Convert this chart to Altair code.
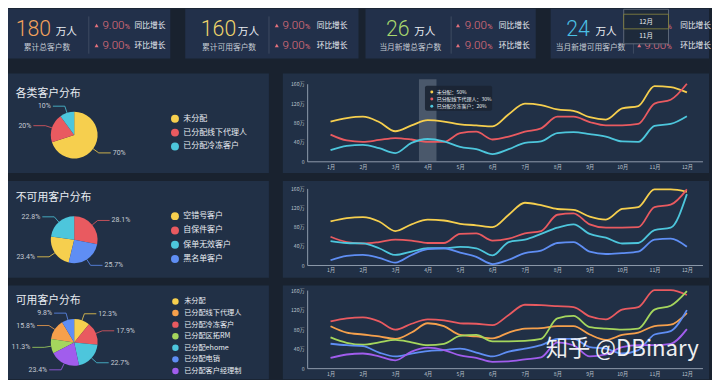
import altair as alt
import pandas as pd

# ------------------------------------------------------------------ data
card_values = ["180", "160", "26", "24"]
card_unit = "万人"
card_titles = ["累计总客户数", "累计可用客户数", "当月新增总客户数", "当月新增可用客户数"]
card_yoy = ["9.00", "9.00", "9.00", "9.00"]
card_mom = ["9.00", "9.00", "9.00", "9.00"]
yoy_text = "同比增长"
mom_text = "环比增长"
month_menu = ["12月", "11月"]

panel_titles = ["各类客户分布", "不可用客户分布", "可用客户分布"]

pie1_names = ["未分配", "已分配线下代理人", "已分配冷冻客户"]
pie1_values = [70, 20, 10]
pie1_order = [1, 2, 3]

pie2_names = ["空错号客户", "自保件客户", "保单无效客户", "黑名单客户"]
pie2_values = [23.4, 28.1, 22.8, 25.7]
pie2_order = [3, 1, 4, 2]

pie3_names = ["未分配", "已分配线下代理人", "已分配冷冻客户", "已分配区拓RM",
              "已分配ehome", "已分配电销", "已分配客户经理制"]
pie3_values = [12.3, 15.8, 17.9, 11.3, 22.7, 9.8, 23.4]
pie3_order = [1, 6, 2, 5, 3, 7, 4]

tip_month = 4
tip_values = [50, 30, 20]

months = [1, 1.5, 2, 2.5, 3, 3.5, 4, 4.5, 5, 5.5, 6, 6.5, 7, 7.5, 8, 8.5,
          9, 9.5, 10, 10.5, 11, 11.5, 12]

p1_yellow = [82, 89, 92, 81, 62, 74, 85, 82, 76, 74, 72, 97, 119, 116, 107, 104, 91, 86, 109, 114, 155, 153, 142]
p1_red = [55, 43, 40, 44, 48, 45, 40, 40, 58, 61, 45, 51, 61, 68, 92, 92, 81, 74, 74, 77, 119, 127, 160]
p1_cyan = [23, 32, 34, 27, 17, 38, 46, 41, 30, 25, 15, 25, 38, 41, 58, 60, 56, 51, 41, 40, 73, 77, 93]

p2_yellow = [91, 98, 100, 91, 71, 85, 95, 93, 86, 83, 79, 105, 130, 125, 117, 115, 101, 95, 117, 121, 158, 158, 153]
p2_red = [59, 48, 45, 48, 53, 51, 46, 46, 65, 66, 51, 55, 66, 71, 105, 108, 85, 78, 78, 79, 121, 126, 158]
p2_cyan = [50, 46, 45, 35, 21, 28, 35, 35, 38, 35, 20, 48, 53, 65, 78, 85, 65, 57, 45, 46, 73, 78, 148]
p2_blue = [10, 19, 21, 15, 5, 21, 33, 35, 26, 17, 2, 11, 25, 30, 46, 48, 28, 23, 25, 28, 53, 55, 38]

p3_red = [96, 102, 104, 96, 79, 91, 100, 98, 92, 91, 88, 109, 130, 129, 127, 125, 106, 100, 120, 125, 160, 160, 150]
p3_orange = [86, 73, 69, 65, 60, 73, 92, 86, 68, 65, 61, 73, 81, 82, 86, 86, 69, 58, 68, 73, 86, 89, 113]
p3_green = [63, 52, 48, 53, 58, 53, 47, 50, 66, 68, 55, 55, 56, 60, 102, 107, 84, 81, 79, 81, 120, 128, 158]
p3_blue = [50, 47, 45, 32, 24, 30, 35, 37, 40, 32, 24, 34, 40, 47, 60, 60, 43, 40, 30, 37, 69, 76, 119]
p3_purple = [21, 28, 30, 24, 16, 34, 42, 37, 26, 21, 13, 14, 18, 22, 53, 47, 24, 28, 43, 47, 47, 50, 80]

watermark = "知乎 @DBinary"

# ------------------------------------------------------------------ style
SX = 704 / 720
SY = 368 / 384
SF = 0.97


def X(v):
    return v * SX


def Y(v):
    return v * SY


CJK = "Noto Sans CJK SC"
NUMF = "Roboto"
BG = "#19222f"
CARD_BG = "#22304a"
PANEL_BG = "#213046"
WHITE = "#e9edf2"
SUBC = "#c5cbd4"
DIVC = "#3e4c62"
PINK = "#e0707c"
AXC = "#8e9aab"
AXL = "#b9c1cc"

YEL = "#f6cf4e"
RED = "#e95a60"
CYA = "#4dc6dc"
BLU = "#5f8ef4"
ORA = "#f6a04c"
GRN = "#a5d65d"
PUR = "#a15ded"

num_colors = ["#f2a25c", "#efd46a", "#a9d86e", "#4bc0e5"]

# per card layout (reference px, relative to card): number, unit, subtitle centre,
# divider, triangle, percent, label
card_layout = [
    (8, 49, 40, 83, 91, 97, 130),
    (16, 54, 45, 86, 94, 100, 135),
    (21, 50, 46, 88, 95, 102, 137),
    (16, 46, 41, 85, 91, 96, 133),
]
card_w = [163, 174, 171, 159]
CARD_H = 50


def card(i):
    L = card_layout[i]
    df = pd.DataFrame({"num": [card_values[i]], "unit": [card_unit], "title": [card_titles[i]],
                       "yoy": [card_yoy[i]], "mom": [card_mom[i]], "pct": ["%"],
                       "yl": [yoy_text], "ml": [mom_text]})
    b = alt.Chart(df)
    layers = [
        b.mark_text(align="left", baseline="alphabetic", font=NUMF, fontWeight=300,
                    fontSize=22 * SF, color=num_colors[i]).encode(
            x=alt.value(X(L[0])), y=alt.value(Y(28.3)), text="num:N"),
        b.mark_text(align="left", baseline="alphabetic", font=CJK, fontSize=11 * SF,
                    color=WHITE).encode(x=alt.value(X(L[1])), y=alt.value(Y(27)), text="unit:N"),
        b.mark_text(align="center", baseline="alphabetic", font=CJK, fontSize=8 * SF,
                    color=SUBC).encode(x=alt.value(X(L[2])), y=alt.value(Y(43)), text="title:N"),
        b.mark_rule(color=DIVC, strokeWidth=1).encode(
            x=alt.value(X(L[3])), y=alt.value(Y(8)), y2=alt.value(Y(47))),
    ]
    for (yy, fld, lab) in [(21, "yoy", "yl"), (42, "mom", "ml")]:
        layers += [
            b.mark_point(shape="triangle-up", filled=True, size=16, color=PINK, opacity=1).encode(
                x=alt.value(X(L[4])), y=alt.value(Y(yy - 3.5))),
            b.mark_text(align="left", baseline="alphabetic", font=NUMF, fontWeight=300,
                        fontSize=12 * SF, color=PINK).encode(
                x=alt.value(X(L[5])), y=alt.value(Y(yy)), text=f"{fld}:N"),
            b.mark_text(align="left", baseline="alphabetic", font=NUMF, fontSize=7.5 * SF,
                        color=PINK).encode(
                x=alt.value(X(L[5] + 23)), y=alt.value(Y(yy)), text="pct:N"),
            b.mark_text(align="left", baseline="alphabetic", font=CJK, fontSize=8 * SF,
                        color=WHITE).encode(
                x=alt.value(X(L[6])), y=alt.value(Y(yy - 0.5)), text=f"{lab}:N"),
        ]
    if i == 3:
        md = pd.DataFrame({"m": month_menu})
        mb = alt.Chart(md)
        layers += [
            alt.Chart(pd.DataFrame({"k": [0]})).mark_rect(fill="#1e2a3b", stroke="#6d7786",
                                                         strokeWidth=0.8).encode(
                x=alt.value(X(75)), x2=alt.value(X(121)), y=alt.value(0.5), y2=alt.value(Y(36.7))),
            alt.Chart(pd.DataFrame({"k": [0]})).mark_rect(fill="#1e2a3b", stroke="#8d8a3f",
                                                         strokeWidth=0.8).encode(
                x=alt.value(X(75)), x2=alt.value(X(121)), y=alt.value(Y(5.7)), y2=alt.value(Y(21))),
            mb.transform_filter(alt.datum.m == month_menu[0]).mark_text(
                align="center", baseline="middle", font=CJK, fontSize=6.5, color=WHITE).encode(
                x=alt.value(X(98)), y=alt.value(Y(13.5)), text="m:N"),
            mb.transform_filter(alt.datum.m == month_menu[1]).mark_text(
                align="center", baseline="middle", font=CJK, fontSize=6.5, color=WHITE).encode(
                x=alt.value(X(98)), y=alt.value(Y(29)), text="m:N"),
        ]
    return alt.layer(*layers).properties(
        width=card_w[i], height=CARD_H, view=alt.ViewBackground(fill=CARD_BG, stroke=None))


LEFT_W = 262
RIGHT_W = 428
ROW_H = [100, 97, 94]


def pie_panel(k, names, values, order, colors, cy_ref, title_y, leg_y, leg_step, sym_d,
              leg_font, lab_font):
    h = ROW_H[k]
    df = pd.DataFrame({"name": names, "v": values, "o": order})
    cx, cy, R = X(68), Y(cy_ref), 23.5
    R2 = R + 7
    Ll = 12
    b = alt.Chart(df)
    sym_area = 3.1416 * (sym_d / 2) ** 2
    entry = max(sym_d, leg_font)
    legend = alt.Legend(orient="none", direction="vertical", legendX=X(172) - sym_d / 2,
                        legendY=Y(leg_y) - entry / 2, title=None, symbolType="circle",
                        symbolSize=sym_area, symbolStrokeWidth=0, labelColor=WHITE,
                        labelFont=CJK, labelFontSize=leg_font, rowPadding=Y(leg_step) - entry,
                        labelOffset=X(181 - 172) - sym_d / 2, padding=0, offset=0,
                        labelLimit=200)
    arcs = b.mark_arc(radius=R, stroke=None).encode(
        theta=alt.Theta("v:Q", stack=True),
        order=alt.Order("o:Q"),
        color=alt.Color("name:N", scale=alt.Scale(domain=names, range=colors), legend=legend),
        x=alt.value(cx), y=alt.value(cy))
    geo = b.transform_window(
        cum="sum(v)", sort=[alt.SortField("o", order="ascending")], frame=[None, 0]
    ).transform_joinaggregate(total="sum(v)").transform_calculate(
        mid="(datum.cum - datum.v / 2) / datum.total * 2 * PI",
        side="sin(datum.mid) >= 0 ? 1 : -1",
        ax=f"{cx} + {R} * sin(datum.mid)",
        ay=f"{cy} - {R} * cos(datum.mid)",
        bx=f"{cx} + {R2} * sin(datum.mid)",
        by=f"{cy} - {R2} * cos(datum.mid)",
        ex=f"datum.bx + datum.side * {Ll}",
        tx=f"datum.ex + datum.side * 2",
        lab="datum.v + '%'",
    )
    stroke = alt.Stroke("name:N", scale=alt.Scale(domain=names, range=colors), legend=None)
    seg1 = geo.mark_rule(strokeWidth=0.8).encode(
        x=alt.X("ax:Q", scale=None), y=alt.Y("ay:Q", scale=None),
        x2="bx:Q", y2="by:Q", stroke=stroke)
    seg2 = geo.mark_rule(strokeWidth=0.8).encode(
        x=alt.X("bx:Q", scale=None), y=alt.Y("by:Q", scale=None),
        x2="ex:Q", y2="by:Q", stroke=stroke)
    tr = geo.transform_filter("datum.side > 0").mark_text(
        align="left", baseline="middle", font=NUMF, fontSize=lab_font, color=SUBC).encode(
        x=alt.X("tx:Q", scale=None), y=alt.Y("by:Q", scale=None), text="lab:N")
    tl = geo.transform_filter("datum.side < 0").mark_text(
        align="right", baseline="middle", font=NUMF, fontSize=lab_font, color=SUBC).encode(
        x=alt.X("tx:Q", scale=None), y=alt.Y("by:Q", scale=None), text="lab:N")
    title = alt.Chart(pd.DataFrame({"t": [panel_titles[k]]})).mark_text(
        align="left", baseline="alphabetic", font=CJK, fontSize=11.2 * SF, color=WHITE).encode(
        x=alt.value(X(8)), y=alt.value(Y(title_y)), text="t:N")
    return alt.layer(arcs, seg1, seg2, tr, tl, title).properties(
        width=LEFT_W, height=h, view=alt.ViewBackground(fill=PANEL_BG, stroke=None))


X_LO = 1 - 24 / 33.27
X_HI = 12 + 16 / 33.27


def line_panel(k, series, names, colors, y_zero, y_top, extra=None):
    h = ROW_H[k]
    rows = []
    for name, vals in zip(names, series):
        for m, v in zip(months, vals):
            rows.append({"m": m, "v": v, "s": name})
    df = pd.DataFrame(rows)
    yz, yt = Y(y_zero), Y(y_top)
    xs = alt.Scale(domain=[X_LO, X_HI], range=[X(25), X(431)], nice=False, zero=False)
    ys = alt.Scale(domain=[0, 160], range=[yz, yt], nice=False, zero=False)
    xax = alt.Axis(values=list(range(1, 13)), labelExpr="datum.value + '月'", ticks=False,
                   grid=False, title=None, offset=-(h - yz), domainColor=AXC, domainWidth=1,
                   labelColor=AXL, labelFont=CJK, labelFontSize=5.2, labelPadding=3,
                   labelOverlap=False, labelBound=False, labelFlush=False, zindex=1)
    yax = alt.Axis(values=[0, 40, 80, 120, 160],
                   labelExpr="datum.value == 0 ? '0' : datum.value + '万'", ticks=False,
                   grid=False, title=None, offset=-X(25), domainColor=AXC, domainWidth=1,
                   labelColor=AXL, labelFont=CJK, labelFontSize=5.2, labelPadding=3,
                   labelOverlap=False, labelBound=False, labelFlush=False, zindex=1)
    lines = alt.Chart(df).mark_line(interpolate="monotone", strokeWidth=1.8).encode(
        x=alt.X("m:Q", scale=xs, axis=xax),
        y=alt.Y("v:Q", scale=ys, axis=yax),
        color=alt.Color("s:N", scale=alt.Scale(domain=names, range=colors), legend=None))
    layers = []
    if extra == "tooltip":
        band = alt.Chart(pd.DataFrame({"m": [tip_month]})).mark_rule(
            strokeWidth=X(18), color="#7d8a9a", opacity=0.45).encode(
            x=alt.X("m:Q", scale=xs, axis=xax), y=alt.value(Y(6)), y2=alt.value(yz))
        layers.append(band)
    layers.append(lines)
    if extra == "tooltip":
        box = alt.Chart(pd.DataFrame({"k": [0]})).mark_rect(
            fill="#1b2533", opacity=0.9, cornerRadius=2).encode(
            x=alt.value(X(146)), x2=alt.value(X(215)), y=alt.value(Y(12.7)), y2=alt.value(Y(39)))
        layers.append(box)
        tdf = pd.DataFrame({"s": names, "p": tip_values})
        for j in range(len(names)):
            row = alt.Chart(tdf).transform_filter(alt.datum.s == names[j]).transform_calculate(
                lab="datum.s + '：' + datum.p + '%'")
            layers.append(row.mark_circle(size=9, opacity=1).encode(
                x=alt.value(X(153)), y=alt.value(Y(19.3 + 7.5 * j)),
                color=alt.Color("s:N", scale=alt.Scale(domain=names, range=colors), legend=None)))
            layers.append(row.mark_text(align="left", baseline="middle", font=CJK, fontSize=5,
                                        color=WHITE).encode(
                x=alt.value(X(158)), y=alt.value(Y(19.3 + 7.5 * j)), text="lab:N"))
    if extra == "watermark":
        layers.append(alt.Chart(pd.DataFrame({"t": [watermark]})).mark_text(
            align="left", baseline="alphabetic", font=CJK, fontSize=23 * SF, color="#ffffff",
            opacity=0.92).encode(x=alt.value(X(270)), y=alt.value(Y(74)), text="t:N"))
    return alt.layer(*layers).properties(
        width=RIGHT_W, height=h, view=alt.ViewBackground(fill=PANEL_BG, stroke=None))


def indep(c):
    return c.resolve_scale(color="independent", stroke="independent", x="independent",
                           y="independent").resolve_legend(color="independent",
                                                           stroke="independent")


cards = indep(alt.hconcat(
    indep(alt.hconcat(card(0), card(1), spacing=15)),
    indep(alt.hconcat(card(2), card(3), spacing=15)),
    spacing=7))

row1 = indep(alt.hconcat(
    pie_panel(0, pie1_names, pie1_values, pie1_order, [YEL, RED, CYA], 64.5, 25, 48, 15.5,
              9, 8, 7),
    line_panel(0, [p1_yellow, p1_red, p1_cyan], pie1_names, [YEL, RED, CYA], 92, 10.7,
               extra="tooltip"),
    spacing=14))

row2 = indep(alt.hconcat(
    pie_panel(1, pie2_names, pie2_values, pie2_order, [YEL, RED, CYA, BLU], 61.5, 21, 37.3,
              16, 9, 8, 7),
    line_panel(1, [p2_yellow, p2_red, p2_cyan, p2_blue], pie2_names, [YEL, RED, CYA, BLU],
               88, 7.7),
    spacing=14))

p3_colors = [YEL, ORA, RED, GRN, CYA, BLU, PUR]
row3 = indep(alt.hconcat(
    pie_panel(2, pie3_names, pie3_values, pie3_order, p3_colors, 59.5, 19, 16.7, 11.4,
              7.3, 7.2, 7),
    line_panel(2, [p3_red, p3_orange, p3_green, p3_blue, p3_purple],
               [pie3_names[2], pie3_names[1], pie3_names[3], pie3_names[5], pie3_names[6]],
               [RED, ORA, GRN, BLU, PUR], 86.5, 4.7, extra="watermark"),
    spacing=14))

rows = indep(alt.vconcat(row1, row2, row3, spacing=8))

chart = indep(alt.vconcat(cards, rows, spacing=11)).properties(
    background=BG, padding=0
).configure_view(stroke=None).configure(font=CJK)

chart.save("out.html", embed_options={"renderer": "svg", "actions": False})
